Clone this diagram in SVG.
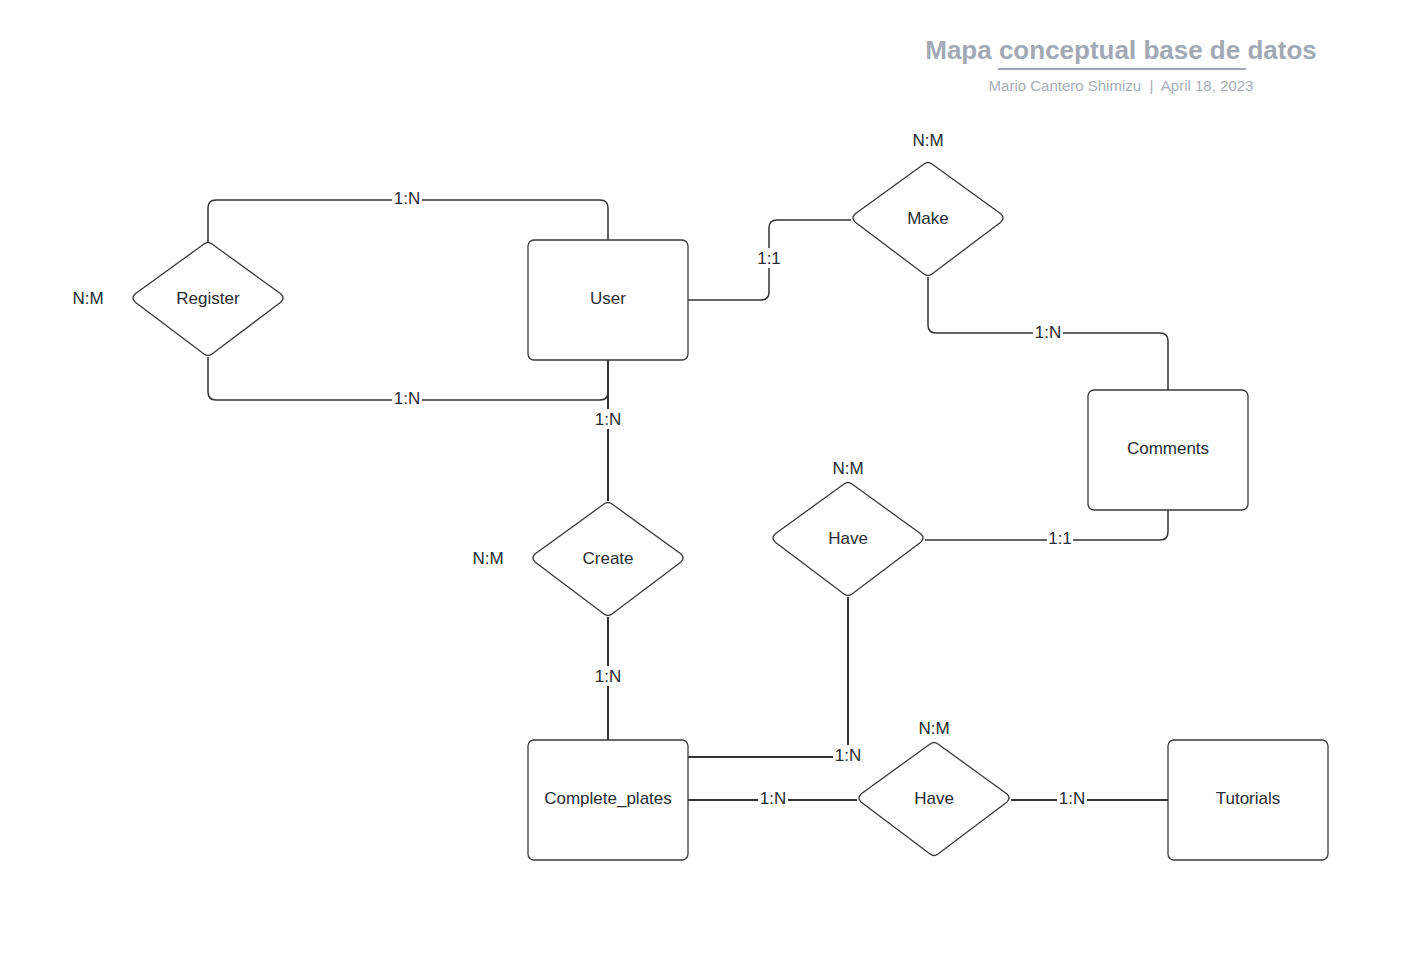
<svg xmlns="http://www.w3.org/2000/svg" width="1428" height="959" viewBox="0 0 1428 959">
<style>
text{font-family:"Liberation Sans",Arial,sans-serif;fill:#282c33}
.lbl{font-size:17px;text-anchor:middle;dominant-baseline:central}
.ent{fill:#fff;stroke:#3a3a3a;stroke-width:1.3}
.con{fill:none;stroke:#333;stroke-width:1.5}
.cl{font-size:17px;text-anchor:middle;dominant-baseline:central}
.bg{fill:#fff}
</style>
<rect width="1428" height="959" fill="#fff"/>
<g id="title">
<text x="1121" y="50" font-size="26" font-weight="bold" text-anchor="middle" dominant-baseline="central" style="fill:#a3a9b4">Mapa conceptual base de datos</text>
<line x1="998" y1="69" x2="1246" y2="69" stroke="#a3a9b4" stroke-width="2"/>
<text x="1121" y="85" font-size="15" text-anchor="middle" dominant-baseline="central" xml:space="preserve" style="fill:#a8adb8">Mario Cantero Shimizu  |  April 18, 2023</text>
</g>
<g id="connectors">
<path class="con" d="M208 242 V208 Q208 200 216 200 H600 Q608 200 608 208 V240"/>
<path class="con" d="M208 357 V392 Q208 400 216 400 H600 Q608 400 608 392 V360"/>
<path class="con" d="M608 360 V501" style="stroke-width:2"/>
<path class="con" d="M608 617 V740" style="stroke-width:2"/>
<path class="con" d="M688 300 H761 Q769 300 769 292 V228 Q769 220 777 220 H851"/>
<path class="con" d="M928 277 V325 Q928 333 936 333 H1160 Q1168 333 1168 341 V390"/>
<path class="con" d="M1168 510 V532 Q1168 540 1160 540 H925"/>
<path class="con" d="M848 597 V757 H688" style="stroke-width:2"/>
<path class="con" d="M688 800 H857" style="stroke-width:2"/>
<path class="con" d="M1011 800 H1168" style="stroke-width:2"/>
<rect class="bg" x="392" y="188" width="30" height="20"/><text class="cl" x="407" y="198">1:N</text>
<rect class="bg" x="392" y="388" width="30" height="20"/><text class="cl" x="407" y="398">1:N</text>
<rect class="bg" x="593" y="409" width="30" height="20"/><text class="cl" x="608" y="419">1:N</text>
<rect class="bg" x="593" y="666" width="30" height="20"/><text class="cl" x="608" y="676">1:N</text>
<rect class="bg" x="756" y="248" width="26" height="20"/><text class="cl" x="769" y="258">1:1</text>
<rect class="bg" x="1033" y="322" width="30" height="20"/><text class="cl" x="1048" y="332">1:N</text>
<rect class="bg" x="1047" y="528" width="26" height="20"/><text class="cl" x="1060" y="538">1:1</text>
<rect class="bg" x="833" y="745" width="30" height="20"/><text class="cl" x="848" y="755">1:N</text>
<rect class="bg" x="758" y="788" width="30" height="20"/><text class="cl" x="773" y="798">1:N</text>
<rect class="bg" x="1057" y="788" width="30" height="20"/><text class="cl" x="1072" y="798">1:N</text>
</g>
<g id="register">
<path class="ent" d="M204 244 Q208 241 212 244 L281 294 Q285 298 281 302 L212 354 Q208 357 204 354 L135 302 Q131 298 135 294 Z"/>
<text class="lbl" x="208" y="298">Register</text>
<text class="lbl" x="88" y="298">N:M</text>
</g>
<g id="user">
<rect class="ent" x="528" y="240" width="160" height="120" rx="6"/>
<text class="lbl" x="608" y="298">User</text>
</g>
<g id="make">
<path class="ent" d="M924 164 Q928 161 932 164 L1001 214 Q1005 218 1001 222 L932 274 Q928 277 924 274 L855 222 Q851 218 855 214 Z"/>
<text class="lbl" x="928" y="218">Make</text>
<text class="lbl" x="928" y="140">N:M</text>
</g>
<g id="comments">
<rect class="ent" x="1088" y="390" width="160" height="120" rx="6"/>
<text class="lbl" x="1168" y="448">Comments</text>
</g>
<g id="have1">
<path class="ent" d="M844 484 Q848 481 852 484 L921 534 Q925 538 921 542 L852 594 Q848 597 844 594 L775 542 Q771 538 775 534 Z"/>
<text class="lbl" x="848" y="538">Have</text>
<text class="lbl" x="848" y="468">N:M</text>
</g>
<g id="create">
<path class="ent" d="M604 504 Q608 501 612 504 L681 554 Q685 558 681 562 L612 614 Q608 617 604 614 L535 562 Q531 558 535 554 Z"/>
<text class="lbl" x="608" y="558">Create</text>
<text class="lbl" x="488" y="558">N:M</text>
</g>
<g id="complete_plates">
<rect class="ent" x="528" y="740" width="160" height="120" rx="6"/>
<text class="lbl" x="608" y="798">Complete_plates</text>
</g>
<g id="have2">
<path class="ent" d="M930 744 Q934 741 938 744 L1007 794 Q1011 798 1007 802 L938 854 Q934 857 930 854 L861 802 Q857 798 861 794 Z"/>
<text class="lbl" x="934" y="798">Have</text>
<text class="lbl" x="934" y="728">N:M</text>
</g>
<g id="tutorials">
<rect class="ent" x="1168" y="740" width="160" height="120" rx="6"/>
<text class="lbl" x="1248" y="798">Tutorials</text>
</g>
</svg>
